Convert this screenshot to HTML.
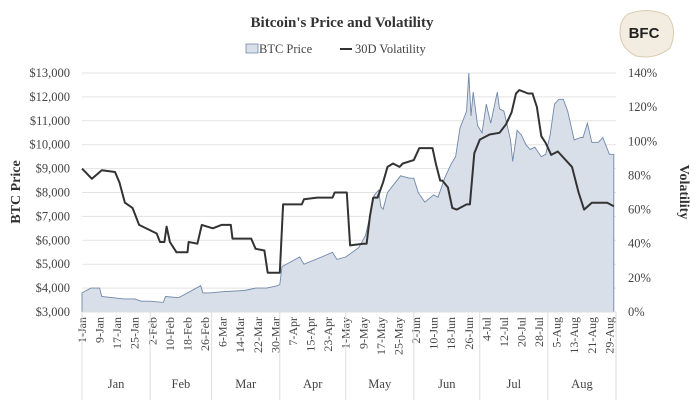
<!DOCTYPE html>
<html><head><meta charset="utf-8"><style>
body{margin:0;background:#fff;}
svg text{font-family:"Liberation Serif",serif;}
</style></head><body>
<svg id="chart" width="698" height="402" viewBox="0 0 698 402" xmlns="http://www.w3.org/2000/svg">
<text x="342" y="27" text-anchor="middle" font-size="15" font-weight="bold" fill="#333">Bitcoin's Price and Volatility</text>
<g>
<rect x="246" y="44" width="12" height="9" fill="#d9dfe8" stroke="#7088aa" stroke-width="0.8"/>
<text x="259" y="53" font-size="12.5" fill="#444">BTC Price</text>
<line x1="340" y1="49" x2="352" y2="49" stroke="#333" stroke-width="2"/>
<text x="355" y="53" font-size="12.5" fill="#444">30D Volatility</text>
</g>
<g>
<path d="M628 14 Q650 6 668 16 Q678 30 670 48 Q655 60 636 56 Q620 48 620 32 Q620 20 628 14Z" fill="#f3ece0" stroke="#d9cbb0" stroke-width="1"/>
<text x="644" y="38" text-anchor="middle" font-size="15" font-weight="bold" fill="#222" style="font-family:'Liberation Sans',sans-serif">BFC</text>
</g>
<g id="grid"></g>
<g id="plot"></g>
<g id="axes"></g>
<text transform="translate(20,192) rotate(-90)" text-anchor="middle" font-size="14" font-weight="bold" fill="#333">BTC Price</text>
<text transform="translate(680,192) rotate(90)" text-anchor="middle" font-size="14" font-weight="bold" fill="#333">Volatility</text>
</svg>
<script>
const priceDays=[0,2,4,8,9,14,19,24,27,31,37,38,44,48,54,55,58,64,74,79,84,89,90,91,99,101,109,114,116,120,126,129,131,133,135,136,137,139,145,149,151,153,156,160,162,165,168,170,172,175,176,177,178,180,182,184,186,189,190,192,195,196,198,200,202,204,206,209,211,213,215,217,219,221,224,227,228,230,232,235,237,240,242];
const priceVals=[3800,3900,4000,4000,3650,3600,3550,3550,3450,3450,3400,3650,3600,3800,4100,3800,3800,3850,3900,4000,4000,4100,4150,4900,5300,5000,5300,5500,5200,5300,5700,6200,7000,7900,8100,7400,7300,8000,8700,8600,8600,8000,7600,7900,7800,8600,9200,9500,10700,11400,13000,11200,12200,10800,10500,11700,10900,12200,11500,11400,10200,9300,10600,10400,10000,9800,9900,9500,9600,10400,11700,11900,11900,11400,10200,10300,10300,10900,10100,10100,10300,9600,9600];
const volDays=[0,4.5,9,15,17,19.5,23,26,34,35.5,37.5,38.5,40,43,48,48.5,52.5,54.5,59.5,63.5,67.7,68.5,77,79,83,84.5,90,91.5,100,101,107,114,115,120.5,122,128,129.5,131,132.5,134.5,137,139,141.5,144.5,146,151,153.5,159.5,161,163,164,166.5,168.5,170.5,175,176.5,178.5,181,185.5,190,193,195.5,197.5,199,203,205,207,209,211,213.5,216.5,223,226,228.5,232,239,242];
const volVals=[84,78,83,82,76,64,61,51,46,41,41,50,41,35,35,41,40,51,49,51,51,43,43,37,36,23,23,63,63,66,67,67,70,70,39,40,40,56,67,67,76,85,87,85,87,89,96,96,87,77,77,73,61,60,63,63,93,101,104,105,110,117,128,130,128,128,120,103,99,92,94,85,70,60,64,64,62];
const priceTicks=[3000,4000,5000,6000,7000,8000,9000,10000,11000,12000,13000];
const volTicks=[0,20,40,60,80,100,120,140];
const dateLabels=["1-Jan","9-Jan","17-Jan","25-Jan","2-Feb","10-Feb","18-Feb","26-Feb","6-Mar","14-Mar","22-Mar","30-Mar","7-Apr","15-Apr","23-Apr","1-May","9-May","17-May","25-May","2-Jun","10-Jun","18-Jun","26-Jun","4-Jul","12-Jul","20-Jul","28-Jul","5-Aug","13-Aug","21-Aug","29-Aug"];
const dateLabelDays=[0,8,16,24,32,40,48,56,64,72,80,88,96,104,112,120,128,136,144,152,160,168,176,184,192,200,208,216,224,232,240];
const months=["Jan","Feb","Mar","Apr","May","Jun","Jul","Aug"];
const monthStarts=[0,31,59,90,120,151,181,212,243];

const NS="http://www.w3.org/2000/svg";
const X0=82,X1=616,Y0=312,Y1=73;
const xS=d=>X0+d*(X1-X0)/243;
const yP=p=>Y0-(p-3000)*(Y0-Y1)/10000;
const yV=v=>Y0-v*(Y0-Y1)/140;
function mk(tag,attrs,parent){const e=document.createElementNS(NS,tag);for(const k in attrs)e.setAttribute(k,attrs[k]);parent.appendChild(e);return e;}
const grid=document.getElementById('grid'),plot=document.getElementById('plot'),axes=document.getElementById('axes');
priceTicks.forEach((t,i)=>{
  const l=mk('line',{x1:X0,x2:X1,y1:yP(t),y2:yP(t),stroke:'#e3e3e3','stroke-width':1},grid);
  
  
  const tx=mk('text',{x:70,y:yP(t)+4,'text-anchor':'end','font-size':12.5,fill:'#444'},axes);
  tx.textContent='$'+t.toLocaleString('en-US');
  
  
});
volTicks.forEach(t=>{
  const tx=mk('text',{x:628,y:yV(t)+4,'font-size':12.5,fill:'#444'},axes);
  tx.textContent=t+'%';
  
  
});
let d='M'+xS(priceDays[0])+','+Y0;
priceDays.forEach((dd,i)=>{d+=' L'+xS(dd).toFixed(1)+','+yP(priceVals[i]).toFixed(1);});
d+=' L'+xS(priceDays[priceDays.length-1])+','+Y0+' Z';
const area=mk('path',{d:d,fill:'#d9dfe8',stroke:'#7088aa','stroke-width':0.9},plot);


let v='';
volDays.forEach((dd,i)=>{v+=(i?' L':'M')+xS(dd).toFixed(1)+','+yV(volVals[i]).toFixed(1);});
const vl=mk('path',{d:v,fill:'none',stroke:'#333','stroke-width':2,'stroke-linejoin':'round'},plot);


mk('line',{x1:X0,x2:X1,y1:Y0,y2:Y0,stroke:'#ddd'},axes);
dateLabels.forEach((lab,i)=>{
  const x=xS(dateLabelDays[i]);
  const tx=mk('text',{transform:`translate(${x+4},${Y0+5}) rotate(-90)`,'text-anchor':'end','font-size':12,fill:'#444'},axes);
  tx.textContent=lab;
  
  
});
monthStarts.forEach(ms=>{
  const l=mk('line',{x1:xS(ms),x2:xS(ms),y1:Y0,y2:400,stroke:'#ddd'},axes);
  
  
});
months.forEach((m,i)=>{
  const tx=mk('text',{x:(xS(monthStarts[i])+xS(monthStarts[i+1]))/2,y:388,'text-anchor':'middle','font-size':12.5,fill:'#444'},axes);
  tx.textContent=m;
  
  
});
</script>
</body></html>
